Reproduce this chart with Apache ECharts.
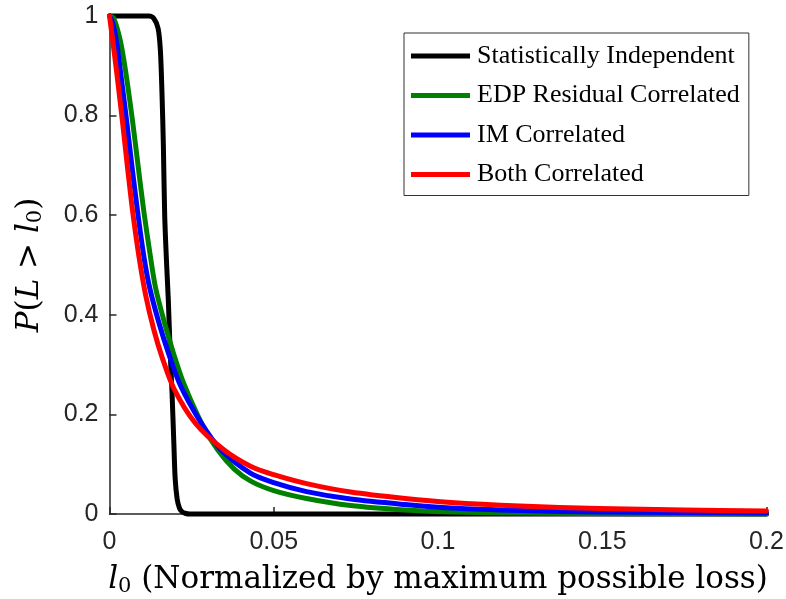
<!DOCTYPE html>
<html>
<head>
<meta charset="utf-8">
<script src="https://cdn.jsdelivr.net/npm/echarts@6/dist/echarts.min.js"></script>
<style>
html,body{margin:0;padding:0;background:#fff;}
#chart{width:786px;height:599px;}
</style>
</head>
<body>
<div id="chart"></div>
<script>
// Series names
const seriesNames = ['Statistically Independent', 'EDP Residual Correlated', 'IM Correlated', 'Both Correlated'];
const seriesColors = ['#000000', '#008000', '#0000ff', '#ff0000'];

// [l0, P(L > l0)]
const independent = [
  [0, 1], [0.006, 1], [0.012, 1], [0.0135, 0.995], [0.0148, 0.975], [0.0155, 0.93], [0.016, 0.84],
  [0.0164, 0.74], [0.0168, 0.6], [0.0174, 0.5], [0.0179, 0.43], [0.0185, 0.32],
  [0.019, 0.25], [0.0196, 0.14], [0.02, 0.07], [0.0206, 0.03], [0.0213, 0.012],
  [0.022, 0.005], [0.023, 0.0015], [0.0245, 0], [0.03, 0], [0.05, 0], [0.1, 0], [0.15, 0], [0.2, 0]
];
const edpCorrelated = [
  [0, 1], [0.0013, 0.995], [0.0033, 0.95], [0.005, 0.885], [0.007, 0.79], [0.0085, 0.71],
  [0.0104, 0.61], [0.0125, 0.515], [0.014, 0.455], [0.0167, 0.385], [0.0196, 0.32],
  [0.0226, 0.262], [0.0282, 0.18], [0.0328, 0.13], [0.038, 0.09], [0.043, 0.066],
  [0.05, 0.047], [0.06, 0.031], [0.0734, 0.017], [0.09, 0.008], [0.104, 0.004],
  [0.13, 0.0015], [0.16, 0.0006], [0.2, 0.0002]
];
const imCorrelated = [
  [0, 1], [0.0008, 0.99], [0.0021, 0.95], [0.0035, 0.88], [0.0052, 0.79], [0.0068, 0.7],
  [0.0085, 0.61], [0.0104, 0.52], [0.0122, 0.455], [0.015, 0.385], [0.018, 0.322],
  [0.0216, 0.258], [0.0277, 0.185], [0.0338, 0.13], [0.0429, 0.082], [0.05, 0.063],
  [0.06, 0.045], [0.0734, 0.03], [0.09, 0.019], [0.104, 0.012], [0.125, 0.007],
  [0.149, 0.004], [0.175, 0.003], [0.2, 0.002]
];
const bothCorrelated = [
  [0, 1], [0.001, 0.95], [0.0025, 0.87], [0.004, 0.785], [0.0055, 0.695], [0.007, 0.61],
  [0.0089, 0.52], [0.011, 0.44], [0.0135, 0.37], [0.016, 0.315], [0.0196, 0.252],
  [0.0262, 0.182], [0.0348, 0.129], [0.0429, 0.096], [0.05, 0.079], [0.06, 0.061],
  [0.0734, 0.044], [0.09, 0.031], [0.104, 0.023], [0.125, 0.016], [0.149, 0.011],
  [0.175, 0.008], [0.2, 0.006]
];
const seriesData = [independent, edpCorrelated, imCorrelated, bothCorrelated];

const xTicks = [0, 0.05, 0.1, 0.15, 0.2];
const yTicks = [0, 0.2, 0.4, 0.6, 0.8, 1];

const axisColor = '#262626';
const serif = '"DejaVu Serif", serif';
const sans = '"Liberation Sans", Arial, sans-serif';

const chart = echarts.init(document.getElementById('chart'), null, {renderer: 'canvas'});

const nameRich = {
  n: {fontFamily: serif, fontSize: 31, color: '#000'},
  i: {fontFamily: serif, fontSize: 31, fontStyle: 'italic', color: '#000'},
  s: {fontFamily: serif, fontSize: 21, color: '#000', padding: [13, 0, 0, 0]}
};

chart.setOption({
  animation: false,
  backgroundColor: '#fff',
  grid: {left: 109.5, right: 19.5, top: 16, bottom: 85, containLabel: false, outerBoundsMode: 'none'},
  legend: {
    orient: 'vertical',
    left: 404,
    top: 33,
    padding: [10, 9, 8, 7],
    itemGap: 13.5,
    itemWidth: 59,
    itemHeight: 5,
    icon: 'rect',
    borderColor: '#333',
    borderWidth: 1,
    backgroundColor: '#fff',
    data: seriesNames,
    textStyle: {fontFamily: '"Liberation Serif", serif', fontSize: 26, color: '#000', padding: [0, 0, 0, 2]}
  },
  xAxis: {
    type: 'value',
    min: xTicks[0],
    max: xTicks[xTicks.length - 1],
    interval: 0.05,
    name: '{i|l}{s|0}{n| (Normalized by maximum possible loss)}',
    nameLocation: 'middle',
    nameGap: 49,
    nameTextStyle: {rich: nameRich},
    axisLine: {show: true, onZero: false, lineStyle: {color: axisColor, width: 1.5}},
    axisTick: {show: true, inside: true, length: 7, lineStyle: {color: axisColor, width: 1.5}},
    axisLabel: {fontFamily: sans, fontSize: 25, color: '#262626', margin: 16,
      formatter: v => String(+v.toFixed(2))},
    splitLine: {show: false}
  },
  yAxis: {
    type: 'value',
    min: yTicks[0],
    max: yTicks[yTicks.length - 1],
    interval: 0.2,
    name: '{i|P}{n|(}{i|L}{n| > }{i|l}{s|0}{n|)}',
    nameLocation: 'middle',
    nameRotate: 90,
    nameGap: 63,
    nameTextStyle: {rich: nameRich},
    axisLine: {show: true, onZero: false, lineStyle: {color: axisColor, width: 1.5}},
    axisTick: {show: true, inside: true, length: 7, lineStyle: {color: axisColor, width: 1.5}},
    axisLabel: {fontFamily: sans, fontSize: 25, color: '#262626', margin: 11,
      formatter: v => String(+v.toFixed(1))},
    splitLine: {show: false}
  },
  series: seriesNames.map((name, k) => ({
    name: name,
    type: 'line',
    data: seriesData[k],
    showSymbol: false,
    symbol: 'none',
    smooth: 0.3,
    clip: false,
    color: seriesColors[k],
    lineStyle: {color: seriesColors[k], width: 5, cap: 'round', join: 'round'},
    z: 2 + k
  }))
});
</script>
</body>
</html>
